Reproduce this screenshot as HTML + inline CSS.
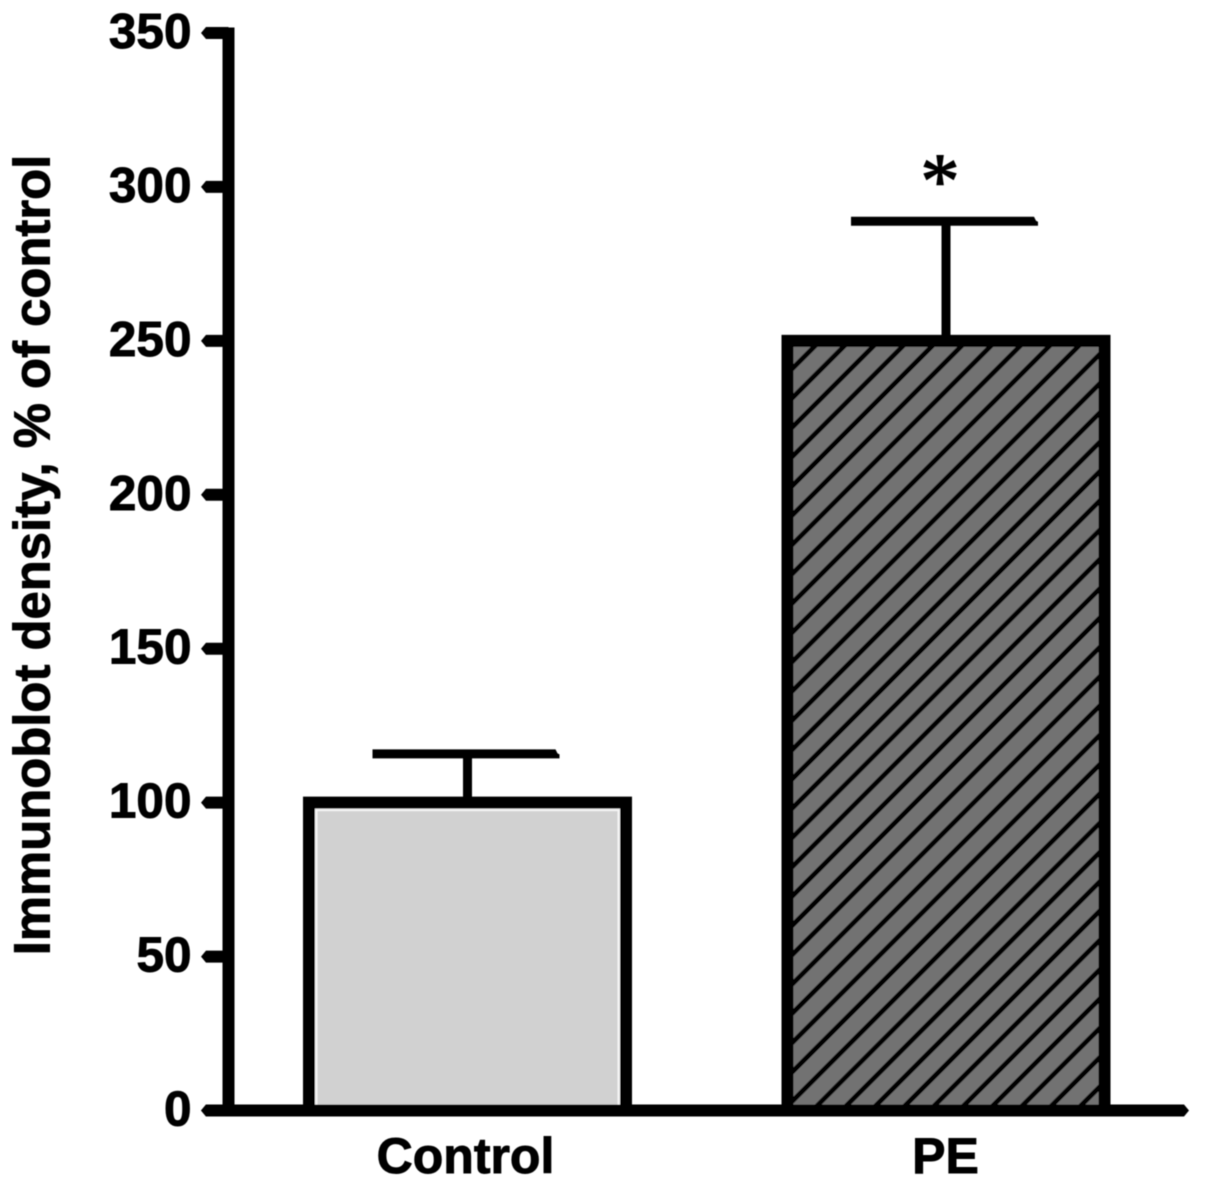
<!DOCTYPE html>
<html lang="en">
<head>
<meta charset="utf-8">
<title>Immunoblot density bar chart</title>
<style>
  html, body { margin: 0; padding: 0; background: #fff; }
  body { width: 1205px; height: 1186px; overflow: hidden; }
  svg { display: block; }
  text { font-family: "Liberation Sans", sans-serif; font-weight: bold; fill: #000; stroke: #000; stroke-width: 0.9px; }
</style>
</head>
<body>
<svg id="chart" xmlns="http://www.w3.org/2000/svg" width="1205" height="1186" viewBox="0 0 1205 1186">
  <defs>
    <filter id="soft" x="-5%" y="-5%" width="110%" height="110%"><feGaussianBlur stdDeviation="0.55"/></filter>
    <pattern id="hatch" patternUnits="userSpaceOnUse" width="20.72" height="20.72" patternTransform="rotate(45)">
      <rect width="20.72" height="20.72" fill="#727272"/>
      <rect x="10.45" y="0" width="4.8" height="20.72" fill="#000"/>
    </pattern>
  </defs>
  <g id="plot" filter="url(#soft)"></g>
</svg>
<script>
var categories = ['Control', 'PE'];
var barValues = [100, 250];
var errorValues = [16, 39];
var yTickLabels = [0, 50, 100, 150, 200, 250, 300, 350];
var yAxisTitle = 'Immunoblot density, % of control';
var significanceMarks = ['', '*'];

var NS = 'http://www.w3.org/2000/svg';
var plot = document.getElementById('plot');

function yScale(v) { return 1110.5 - v * (1110.5 - 33) / 350; }
function barCenter(i) { return 467.5 + i * 478.5; }

var BAR_WIDTH = 317;
var BAR_STROKE = 12;
var CAP_HALF = 93;
var AXIS_X = 228.5;

function make(tag, attrs, text) {
  var el = document.createElementNS(NS, tag);
  for (var k in attrs) { el.setAttribute(k, attrs[k]); }
  if (text !== undefined) { el.textContent = text; }
  plot.appendChild(el);
  return el;
}

categories.forEach(function (cat, i) {
  var cx = barCenter(i);
  var top = yScale(barValues[i]);
  var base = yScale(0);
  var left = cx - BAR_WIDTH / 2;
  var capY = yScale(barValues[i] + errorValues[i]);

  var stem = make('rect', { x: cx - 4.5, y: capY, width: 9, height: top - capY, fill: '#000' });
  
  

  var cap = make('path', {
    d: 'M' + (cx - CAP_HALF - 2) + ' ' + (capY - 4) + 'H' + (cx + CAP_HALF - 5) +
       'L' + (cx + CAP_HALF - 3) + ' ' + (capY) + 'L' + (cx + CAP_HALF - 1) + ' ' + (capY + 1) +
       'V' + (capY + 5) + 'H' + (cx - CAP_HALF - 2) + 'Z',
    fill: '#000'
  });
  
  

  var bar = make('rect', {
    x: left, y: top, width: BAR_WIDTH, height: base - top,
    fill: i === 0 ? '#d1d1d1' : 'url(#hatch)',
    stroke: i === 0 ? 'none' : '#000',
    'stroke-width': BAR_STROKE
  });
  
  

  if (i === 0) {
    var edge = make('rect', {
      x: left + 7, y: top + 7, width: BAR_WIDTH - 14, height: base - top - 10,
      fill: 'none', stroke: '#f4f4f4', 'stroke-width': 3
    });
    
    

    var frame = make('path', {
      d: 'M' + left + ' ' + base + 'V' + top + 'H' + (left + BAR_WIDTH) + 'V' + base,
      fill: 'none', stroke: '#000', 'stroke-width': BAR_STROKE
    });
    
    
  }

  var label = make('text', { x: cx - 2 + i * 1.5, y: 1173, 'font-size': 50, 'text-anchor': 'middle' }, cat);
  
  

  if (significanceMarks[i]) {
    var star = make('text', {
      x: cx - 6, y: capY - 14, 'font-size': 78, 'text-anchor': 'middle'
    }, significanceMarks[i]);
    star.style.fontFamily = '"Liberation Serif", serif';
    star.style.fontWeight = 'normal';
    star.style.strokeWidth = '1.4px';
    
    
  }
});

yTickLabels.forEach(function (v) {
  var y = yScale(v);
  var tick = make('path', {
    d: 'M201 ' + y + 'L206 ' + (y - 6) + 'H' + AXIS_X + 'V' + (y + 6) + 'H206Z',
    fill: '#000'
  });
  
  

  var tl = make('text', { x: 191.5, y: y + 15, 'font-size': 49.5, 'text-anchor': 'end' }, String(v));
  
  
});

var yAxis = make('rect', { x: AXIS_X - 6, y: yScale(350) - 5.5, width: 12, height: yScale(0) - yScale(350) + 5.5, fill: '#000' });



var y0 = yScale(0);
var xAxis = make('path', {
  d: 'M201 ' + y0 + 'L206 ' + (y0 - 6) + 'H1184L1189 ' + y0 + 'L1184 ' + (y0 + 6) + 'H206Z',
  fill: '#000'
});



var title = make('text', {
  transform: 'translate(49.5 555) rotate(-90)',
  'font-size': 50.8,
  'text-anchor': 'middle'
}, yAxisTitle);


</script>
</body>
</html>
